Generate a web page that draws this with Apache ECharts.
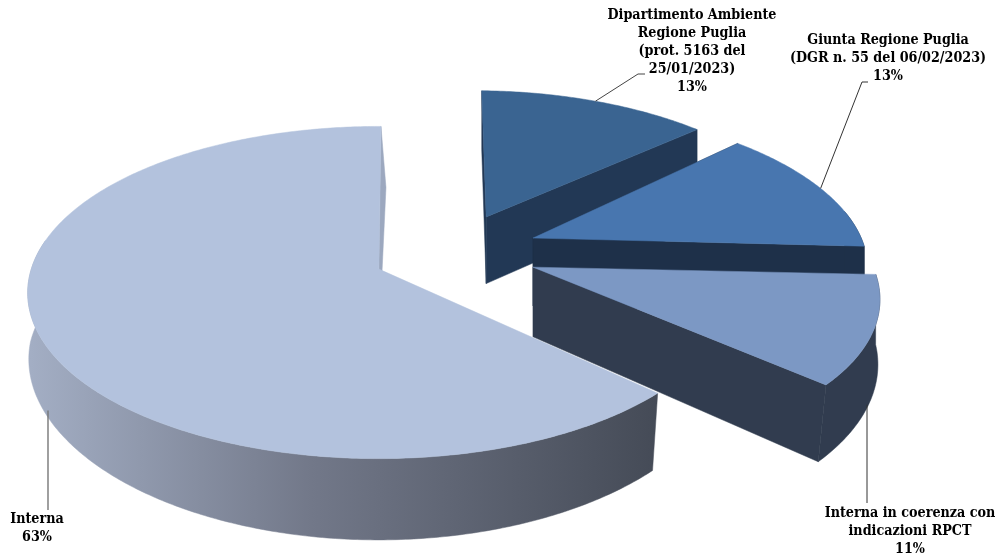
<!DOCTYPE html>
<html>
<head>
<meta charset="utf-8">
<style>html,body{margin:0;padding:0;background:#fff}#chart{width:998px;height:553px}</style>
<script src="https://cdn.jsdelivr.net/npm/echarts@6/dist/echarts.min.js"></script>
</head>
<body>
<div id="chart"></div>
<script>
// Shares of each source, clockwise from twelve o'clock
const sliceNames = [
  'Dipartimento Ambiente\nRegione Puglia\n(prot. 5163 del\n25/01/2023)',
  'Giunta Regione Puglia\n(DGR n. 55 del 06/02/2023)',
  'Interna in coerenza con\nindicazioni RPCT',
  'Interna'
];
const sliceValues = [13, 13, 11, 63];

// Look of each slice
const faceColors = ['#3a6491', '#4876af', '#7c98c4', '#b3c2dd'];
const wallColors = ['#223855', '#1e3049', '#313c4f', '#9ca8bf'];

// Explosion of each slice on the pie plane, in units of the radius
const explodeU = [0.314, 0.448, 0.4365, -0.012];
const explodeV = [-0.357, -0.216, -0.03, -0.018];
// Small per-slice turn (degrees), radius factor and sideways offset of the closing wall
const sliceTurn = [1.5, -0.5, -1, 0.3];
const sliceScale = [0.97, 0.98, 0.99, 1.01];
const closingWallShift = [0, 0, 0, 5];

// Label centre and first line position, leader knee (if any) and leader end
const labelX = [692, 888, 910, 37];
const labelY = [15, 40, 513, 519];
const leaderKnee = [[638, 74], [862, 82], null, null];
const leaderEnd = [[645, 74], [868, 82], [867, 503], [48, 510]];
const leaderOnBottom = [false, false, true, true];
const leaderColor = ['#444444', '#333333', '#333333', '#777777'];
const leaderWidth = [1, 1, 1, 1.4];

// Perspective projection of the pie plane
const CX = 383, CY = 272, RX = 345, RY = 162, PERSP = 0.14, DEPTH = 70, FRONT_TAPER = 0.0275;
const RIM_FROM = 80 * Math.PI / 180, RIM_TO = 280 * Math.PI / 180;
const LINE_H = 18;
const FONT = 'bold 14.2px "DejaVu Serif Condensed", "DejaVu Serif", serif';

const total = sliceValues.reduce((a, b) => a + b, 0);

function project(u, v, bottom) {
  const s = 1 / (1 - PERSP * v);
  let x = CX + RX * u * s;
  let y = CY + RY * v * s;
  if (bottom) {
    x = CX + (x - CX) * (1 - FRONT_TAPER * Math.max(0, v));
    y += DEPTH * s;
  }
  return [x, y];
}
function rimPoint(i, theta, bottom) {
  const t = theta + sliceTurn[i] * Math.PI / 180;
  const r = sliceScale[i];
  return project(explodeU[i] + r * Math.sin(t), explodeV[i] - r * Math.cos(t), bottom);
}
function apexPoint(i, bottom) {
  return project(explodeU[i], explodeV[i], bottom);
}
function arc(i, a0, a1, bottom) {
  const n = Math.max(4, Math.ceil((a1 - a0) * 90));
  const pts = [];
  for (let k = 0; k <= n; k++) pts.push(rimPoint(i, a0 + (a1 - a0) * k / n, bottom));
  return pts;
}
function poly(points, fill) {
  return { type: 'polygon', shape: { points }, style: { fill, stroke: fill, lineWidth: 0.5 } };
}

function renderSlice(params, api) {
  const i = params.dataIndex;
  let before = 0;
  for (let k = 0; k < i; k++) before += sliceValues[k];
  const a0 = before / total * Math.PI * 2;
  const a1 = (before + api.value(0)) / total * Math.PI * 2;
  const mid = (a0 + a1) / 2;
  const children = [];

  // Radial walls sit behind the top face; an opening wall past 90 degrees faces away
  const wall = wallColors[i];
  if (a0 < Math.PI / 2) {
    children.push(poly([apexPoint(i), rimPoint(i, a0), rimPoint(i, a0, true), apexPoint(i, true)], wall));
  }
  const closeBottom = rimPoint(i, a1, true);
  children.push(poly([apexPoint(i), rimPoint(i, a1), [closeBottom[0] + closingWallShift[i], closeBottom[1]], apexPoint(i, true)], wall));

  // Curved wall, only where it faces the viewer
  const rimA0 = Math.max(a0, RIM_FROM), rimA1 = Math.min(a1, RIM_TO);
  if (rimA1 > rimA0) {
    let rimFill = wall;
    if (i === 3) {
      rimFill = new echarts.graphic.LinearGradient(30, 0, 655, 0, [
        { offset: 0, color: '#a3aec4' },
        { offset: 0.45, color: '#727889' },
        { offset: 1, color: '#454b57' }
      ], true);
    }
    children.push(poly(arc(i, rimA0, rimA1).concat(arc(i, rimA0, rimA1, true).reverse()), rimFill));
  }
  children.push(poly([apexPoint(i)].concat(arc(i, a0, a1)), faceColors[i]));

  // Leader line from the rim to the label
  const anchor = rimPoint(i, mid, leaderOnBottom[i]);
  const end = leaderEnd[i];
  const leaderPts = leaderKnee[i] ? [anchor, leaderKnee[i], end] : [[end[0], anchor[1]], end];
  children.push({
    type: 'polyline',
    shape: { points: leaderPts },
    style: { fill: null, stroke: leaderColor[i], lineWidth: leaderWidth[i] }
  });

  // Label: name lines followed by the share
  const lines = (sliceNames[i] + '\n' + api.value(0) + '%').split('\n');
  lines.forEach((text, k) => {
    children.push({
      type: 'text',
      style: {
        x: labelX[i], y: labelY[i] + k * LINE_H, text,
        font: FONT, fill: '#000000', align: 'center', verticalAlign: 'middle'
      }
    });
  });
  return { type: 'group', children };
}

const chart = echarts.init(document.getElementById('chart'), null, { renderer: 'canvas' });
chart.setOption({
  animation: false,
  backgroundColor: '#ffffff',
  series: [{
    type: 'custom',
    coordinateSystem: 'none',
    renderItem: renderSlice,
    data: sliceValues.map((value, i) => ({ name: sliceNames[i], value: [value] }))
  }]
});
</script>
</body>
</html>
